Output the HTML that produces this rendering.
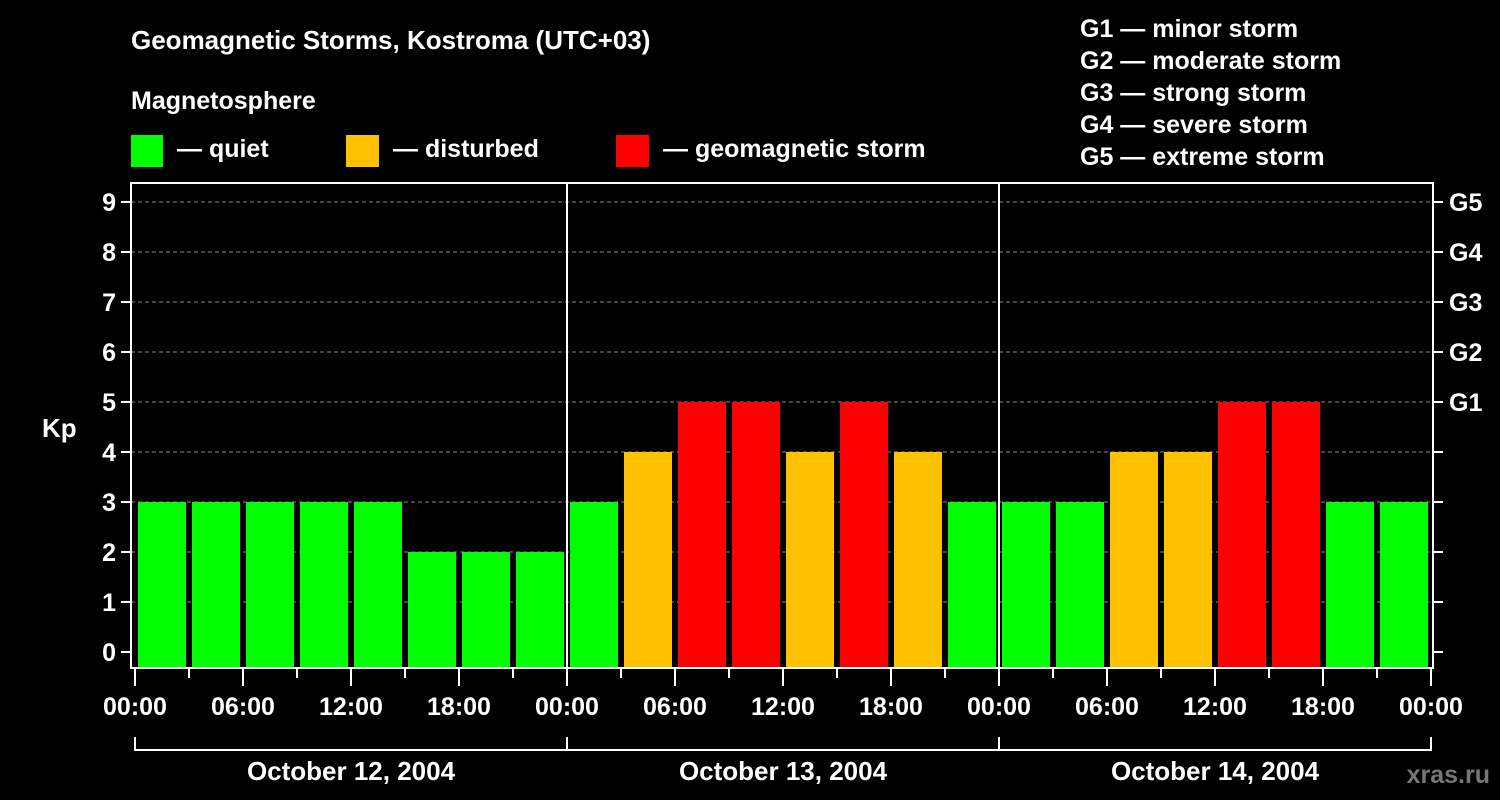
<!DOCTYPE html>
<html><head><meta charset="utf-8"><style>
html,body{margin:0;padding:0;background:#000;}
svg{display:block;font-family:"Liberation Sans",Arial,sans-serif;font-weight:bold;}
</style></head><body>
<svg id="chart" width="1500" height="800" viewBox="0 0 1500 800">
<rect width="1500" height="800" fill="#000"/>
<text x="131" y="49" fill="#fff" font-size="26">Geomagnetic Storms, Kostroma (UTC+03)</text>
<text x="131" y="109" fill="#fff" font-size="25">Magnetosphere</text>
<g><rect x="131" y="135" width="32" height="32" fill="#00ff00"/><text x="177" y="157" fill="#fff" font-size="25">— quiet</text></g>
<g><rect x="346" y="135" width="33" height="32" fill="#ffc000"/><text x="393" y="157" fill="#fff" font-size="25">— disturbed</text></g>
<g><rect x="616" y="135" width="33" height="32" fill="#ff0000"/><text x="663" y="157" fill="#fff" font-size="25">— geomagnetic storm</text></g>
<g fill="#fff" font-size="25">
<text x="1080" y="37">G1 — minor storm</text>
<text x="1080" y="69">G2 — moderate storm</text>
<text x="1080" y="101">G3 — strong storm</text>
<text x="1080" y="133">G4 — severe storm</text>
<text x="1080" y="165">G5 — extreme storm</text>
</g>
<text x="42" y="437" fill="#fff" font-size="26">Kp</text>
<text x="1490" y="783" fill="#777" font-size="25" text-anchor="end">xras.ru</text>
<g id="grid"></g><g id="bars"></g><g id="axes"></g>
</svg>
<script>
const days = ["October 12, 2004","October 13, 2004","October 14, 2004"];
const kpValues = [3,3,3,3,3,2,2,2, 3,4,5,5,4,5,4,3, 3,3,4,4,5,5,3,3];
const yTicks = [0,1,2,3,4,5,6,7,8,9];
const gLabels = ["","","","","","G1","G2","G3","G4","G5"];
const hourLabels = ["00:00","06:00","12:00","18:00"];
const NS="http://www.w3.org/2000/svg";
const X0=135, X1=1431, Y0=652, PX=50, TOP=183, BOT=668, LEFT=131, RIGHT=1433;
const hoursTotal = days.length*24;
function xs(h){return X0+(X1-X0)*h/hoursTotal;}
function ys(k){return Y0-k*PX;}
function mk(tag,attrs,parent){const e=document.createElementNS(NS,tag);for(const k in attrs)e.setAttribute(k,attrs[k]);parent.appendChild(e);return e;}
const grid=document.getElementById('grid'),bars=document.getElementById('bars'),axes=document.getElementById('axes');
yTicks.forEach((t,i)=>{
  if(t>0){const l=mk('line',{x1:LEFT,x2:RIGHT,y1:ys(t),y2:ys(t),stroke:'#888','stroke-dasharray':'4 3','stroke-width':1},grid);
  
  }
  const a=mk('line',{x1:LEFT-10,x2:LEFT,y1:ys(t),y2:ys(t),stroke:'#fff','stroke-width':2},axes);
  
  
  const b=mk('line',{x1:RIGHT,x2:RIGHT+10,y1:ys(t),y2:ys(t),stroke:'#fff','stroke-width':2},axes);
  
  
  const tx=mk('text',{x:LEFT-15,y:ys(t)+9,fill:'#fff','font-size':25,'text-anchor':'end'},axes);tx.textContent=t;
  
  
  if(gLabels[i]){const g=mk('text',{x:RIGHT+16,y:ys(t)+9,fill:'#fff','font-size':25},axes);g.textContent=gLabels[i];
  
  }
});
kpValues.forEach((v,i)=>{
  const c=v>=5?'#ff0000':(v>=4?'#ffc000':'#00ff00');
  const x=xs(i*3)+3, w=xs(i*3+3)-xs(i*3)-6;
  const r=mk('rect',{x:x,y:ys(v),width:w,height:BOT-ys(v),fill:c},bars);
  
  
});
const fr=mk('rect',{x:LEFT,y:TOP,width:RIGHT-LEFT,height:BOT-TOP,fill:'none',stroke:'#fff','stroke-width':2},axes);


for(let d=1;d<days.length;d++){const l=mk('line',{x1:xs(d*24),x2:xs(d*24),y1:TOP,y2:BOT,stroke:'#fff','stroke-width':2},axes);
  
  }
for(let h=0;h<=hoursTotal;h+=3){
  const major=h%6===0;
  const l=mk('line',{x1:xs(h),x2:xs(h),y1:BOT,y2:BOT+(major?18:10),stroke:'#fff','stroke-width':2},axes);
  
  
  if(major){const t=mk('text',{x:xs(h),y:715,fill:'#fff','font-size':25,'text-anchor':'middle'},axes);t.textContent=hourLabels[(h%24)/6];
  
  }
}
days.forEach((d,i)=>{
  const a=xs(i*24),b=xs(i*24+24);
  const p=mk('path',{d:`M${a} 737 V750 H${b} V737`,fill:'none',stroke:'#fff','stroke-width':2},axes);
  
  
  const t=mk('text',{x:(a+b)/2,y:780,fill:'#fff','font-size':26,'text-anchor':'middle'},axes);t.textContent=d;
  
  
});
</script>
</body></html>
